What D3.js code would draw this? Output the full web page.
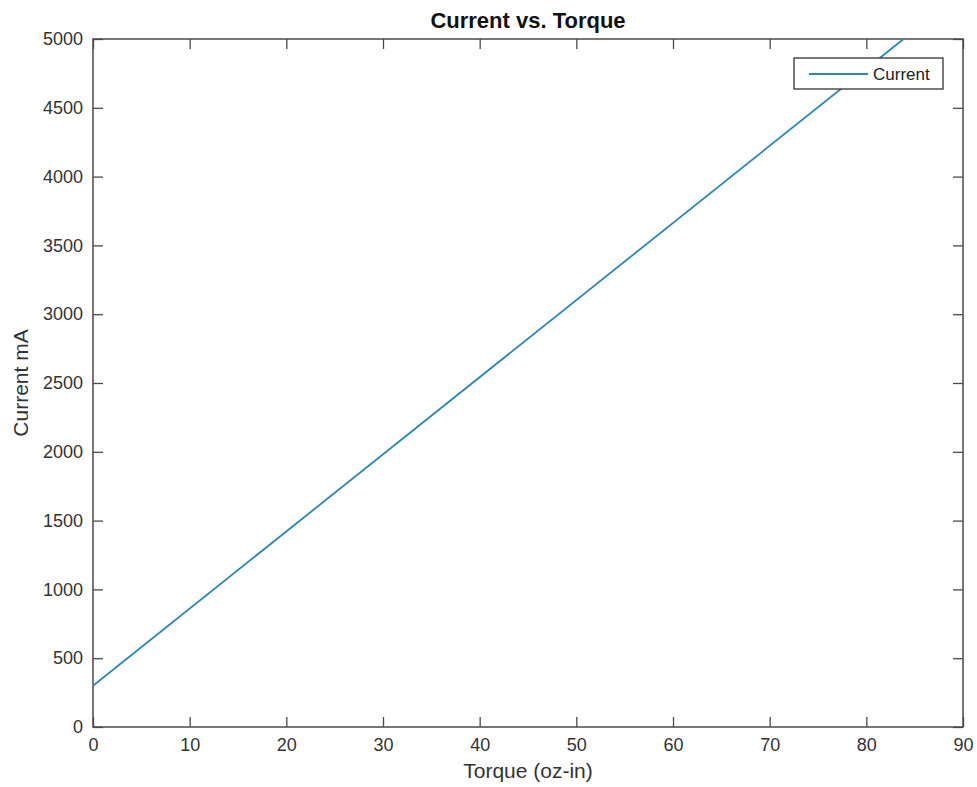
<!DOCTYPE html>
<html>
<head>
    <meta charset="utf-8">
    <style>
        body { margin: 0; background-color: #ffffff; }
        svg text { font-family: "Liberation Sans", Arial, sans-serif; fill: #333; }
    </style>
    <script src="https://d3js.org/d3.v7.min.js"></script>
</head>
<body>
<script>
    // data
    var torque = [0, 83.85];
    var current = [300, 5000];
    var xTicks = [0, 10, 20, 30, 40, 50, 60, 70, 80, 90];
    var yTicks = [0, 500, 1000, 1500, 2000, 2500, 3000, 3500, 4000, 4500, 5000];

    var W = 977, H = 787;
    var margin = { top: 39, right: 14, bottom: 60, left: 93 };
    var w = W - margin.left - margin.right,
        h = H - margin.top - margin.bottom;

    var svg = d3.select("body").append("svg")
        .attr("width", W)
        .attr("height", H);

    var g = svg.append("g")
        .attr("transform", "translate(" + margin.left + "," + margin.top + ")");

    var x = d3.scaleLinear().domain([0, 90]).range([0, w]);
    var y = d3.scaleLinear().domain([0, 5000]).range([h, 0]);

    var axisColor = "#4a4a4a";
    var fmt = d3.format("d");

    // axes, ticks pointing inward; mirror on top/right
    function styleAxis(sel, showText) {
        sel.select(".domain").remove();
        sel.selectAll(".tick line").attr("stroke", axisColor).attr("stroke-width", 1.3);
        sel.selectAll(".tick text")
            .style("font-size", "18px")
            .style("fill", "#333")
            .style("display", showText ? null : "none");
    }

    g.append("g")
        .attr("transform", "translate(0," + h + ")")
        .call(d3.axisBottom(x).tickValues(xTicks).tickFormat(fmt).tickSizeInner(-10).tickPadding(11))
        .call(styleAxis, true);

    g.append("g")
        .call(d3.axisLeft(y).tickValues(yTicks).tickFormat(fmt).tickSizeInner(-10).tickPadding(10))
        .call(styleAxis, true);

    g.append("g")
        .call(d3.axisTop(x).tickValues(xTicks).tickSizeInner(-10))
        .call(styleAxis, false);

    g.append("g")
        .attr("transform", "translate(" + w + ",0)")
        .call(d3.axisRight(y).tickValues(yTicks).tickSizeInner(-10))
        .call(styleAxis, false);

    // box
    g.append("rect")
        .attr("width", w).attr("height", h)
        .attr("fill", "none")
        .attr("stroke", axisColor)
        .attr("stroke-width", 1.5);

    // line
    var pts = torque.map(function (t, i) { return [t, current[i]]; });
    g.append("path")
        .datum(pts)
        .attr("fill", "none")
        .attr("stroke", "#2f86b3")
        .attr("stroke-width", 1.8)
        .attr("d", d3.line()
            .x(function (d) { return x(d[0]); })
            .y(function (d) { return y(d[1]); }));

    // legend
    var lg = g.append("g").attr("transform", "translate(" + (794 - margin.left) + "," + (58 - margin.top) + ")");
    lg.append("rect")
        .attr("width", 149).attr("height", 31)
        .attr("fill", "#fff")
        .attr("stroke", "#222")
        .attr("stroke-width", 1.2);
    lg.append("line")
        .attr("x1", 15).attr("x2", 74)
        .attr("y1", 16).attr("y2", 16)
        .attr("stroke", "#2f86b3")
        .attr("stroke-width", 1.8);
    lg.append("text")
        .attr("x", 79).attr("y", 22)
        .style("font-size", "17px")
        .style("fill", "#222")
        .text("Current");

    // title and labels
    svg.append("text")
        .attr("x", margin.left + w / 2).attr("y", 28)
        .attr("text-anchor", "middle")
        .style("font-size", "22px")
        .style("font-weight", "bold")
        .style("fill", "#111")
        .text("Current vs. Torque");

    svg.append("text")
        .attr("x", margin.left + w / 2).attr("y", 778)
        .attr("text-anchor", "middle")
        .style("font-size", "21px")
        .text("Torque (oz-in)");

    svg.append("text")
        .attr("transform", "translate(28," + (margin.top + h / 2) + ") rotate(-90)")
        .attr("text-anchor", "middle")
        .style("font-size", "21px")
        .text("Current mA");
</script>
</body>
</html>
